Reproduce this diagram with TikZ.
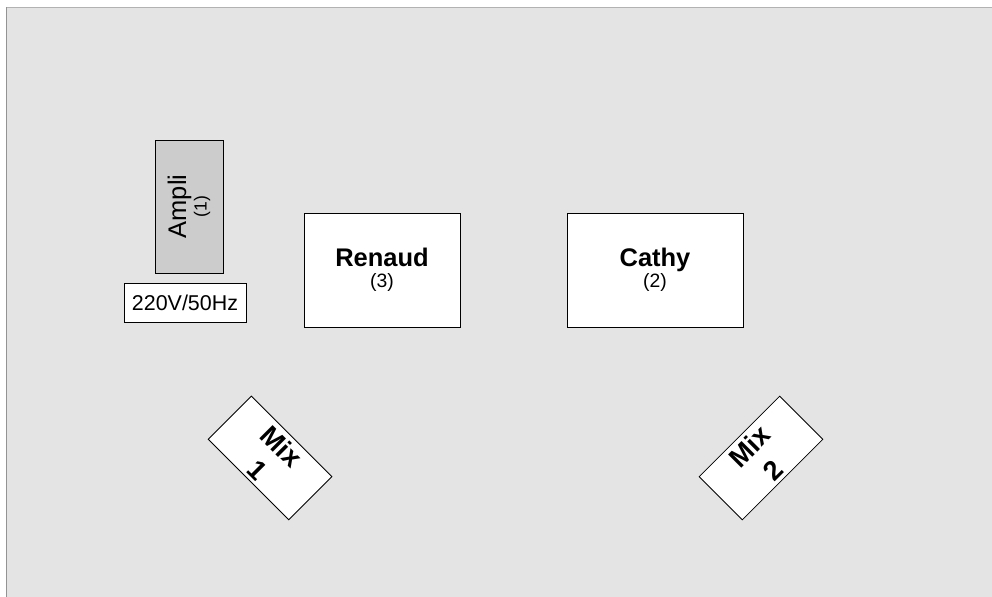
\documentclass[tikz,border=0pt]{standalone}
\usepackage{fontspec}
\setmainfont{Liberation Sans}
\usepackage{xcolor}
\usetikzlibrary{positioning}
\definecolor{stagebg}{HTML}{E4E4E4}
\definecolor{amplifill}{HTML}{CCCCCC}
\tikzset{
  box/.style={rectangle,draw=black,fill=white,line width=0.5pt,inner sep=0pt,align=center},
  person/.style={box,minimum height=2.28cm,font=\fontsize{11}{11.8}\selectfont},
  mixbox/.style={box,minimum width=2.28cm,minimum height=1.22cm,font=\fontsize{15.5}{19}\selectfont\bfseries},
}
\newcommand{\bigname}[1]{{\fontsize{14.5}{16}\selectfont\bfseries #1}}

\begin{document}
\begin{tikzpicture}[x=0.02cm,y=-0.02cm]
    \useasboundingbox (0,0) rectangle (992,597);
    % stage floor
    \fill [stagebg] (6.5,7.5) rectangle (992,597);
    \draw [gray!60,line width=0.8pt] (6.5,7.5) -- (992,7.5);
    \draw [gray!85,line width=0.8pt] (6.5,7.5) -- (6.5,597);

    \node at (189, 206.5) [box,fill=amplifill,minimum width=1.36cm,minimum height=2.66cm] (ampli) {};
    \node at (ampli.center) [rotate=90,align=center,inner sep=0pt,font=\fontsize{10}{11.6}\selectfont] (ampli_t) {{\fontsize{14.5}{16}\selectfont Ampli}\\(1)};
    \node at (185, 302.5) [box,minimum width=2.44cm,minimum height=0.78cm,font=\fontsize{12.2}{14}\selectfont] (power) {220V/50Hz};
    \node at (382, 270) [person,minimum width=3.12cm] (renaud) {\bigname{Renaud}\\(3)};
    \node at (655, 270) [person,minimum width=3.52cm] (cathy) {\bigname{Cathy}\\(2)};
    \node at (270, 458) [mixbox,rotate=-45] (mix_a) {Mix\\1};
    \node at (761, 458) [mixbox,rotate=45] (mix_b) {Mix\\2};
\end{tikzpicture}
\end{document}
